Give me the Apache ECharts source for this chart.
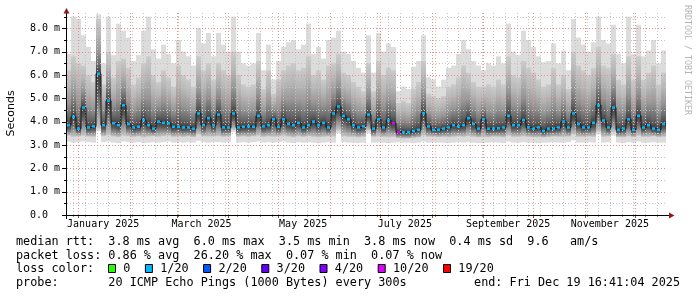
<!DOCTYPE html>
<html><head><meta charset="utf-8">
<script src="https://cdn.jsdelivr.net/npm/echarts@6/dist/echarts.min.js"></script>
<style>html,body{margin:0;padding:0;background:#fff}#c{width:697px;height:297px}</style>
</head><body><div id="c"></div>
<script>
// ---- time frame (360 days, 3-day columns) ----
const START = Date.UTC(2024, 11, 24, 16, 41);
const DAY = 86400000;
const STEP_DAYS = 3;

// ---- data: per-column smoke envelope and median (ms) ----
const topPing = [
  6.9, 8.5, 8.4, 7.7, 7.2, 6.6, 8.6, 6.5, 8.5, 6.85, 8.2, 7.9, 7.6, 6.6, 6.85, 7.9, 8.5, 7.1, 6.7, 7.3, 6.9, 6.5, 7.5, 7.0, 6.8, 6.4, 8.0, 7.35, 7.8, 6.8,
  7.8, 7.3, 7.0, 8.5, 7.0, 6.5, 6.4, 6.5, 7.8, 6.2, 7.3, 5.8, 6.6, 7.2, 7.4, 7.5, 7.1, 7.3, 8.2, 6.9, 7.2, 6.7, 7.5, 7.6, 7.9, 7.0, 6.9, 6.6, 6.3, 6.1,
  7.7, 6.1, 7.8, 7.0, 7.35, 7.2, 5.3, 5.5, 5.4, 6.35, 6.6, 7.7, 5.9, 5.8, 5.5, 5.8, 6.3, 6.4, 6.9, 7.5, 7.1, 6.6, 6.4, 6.2, 6.5, 6.4, 6.8, 6.5, 8.2, 7.0,
  6.85, 7.9, 7.5, 7.2, 6.8, 6.55, 6.6, 7.35, 6.5, 7.05, 6.2, 8.4, 7.6, 7.3, 7.0, 7.4, 8.5, 7.5, 7.35, 8.15, 6.9, 6.5, 8.5, 6.9, 8.15, 6.8, 7.05, 7.5, 6.5, 7.05
];
const upperPing = [
  6.2, 6.8, 6.5, 6.4, 6.0, 5.7, 8.4, 5.6, 7.0, 5.9, 6.6, 6.7, 6.3, 5.6, 5.9, 6.5, 6.8, 6.0, 5.7, 6.2, 5.9, 5.5, 6.4, 6.0, 5.8, 5.5, 6.8, 6.2, 6.5, 5.8,
  6.5, 6.2, 6.0, 7.0, 6.0, 5.6, 5.5, 5.6, 6.6, 5.4, 6.2, 5.2, 5.8, 6.2, 6.4, 6.5, 6.2, 6.3, 6.8, 6.0, 6.2, 5.8, 6.4, 6.5, 6.9, 6.1, 6.0, 5.7, 5.5, 5.3,
  6.5, 5.3, 6.6, 6.0, 6.3, 6.2, 4.8, 4.9, 4.8, 5.4, 5.7, 6.6, 5.2, 5.1, 5.0, 5.1, 5.5, 5.6, 5.9, 6.4, 6.1, 5.7, 5.5, 5.5, 5.6, 5.5, 5.8, 5.6, 6.8, 6.0,
  5.9, 6.6, 6.3, 6.1, 5.8, 5.5, 5.6, 6.3, 5.6, 6.0, 5.4, 7.0, 6.4, 6.2, 6.0, 6.3, 7.2, 6.4, 6.3, 6.9, 5.8, 5.6, 6.8, 5.8, 6.8, 5.8, 6.1, 6.4, 5.6, 6.1
];
const medianRtt = [
  3.85, 4.2, 3.7, 4.6, 3.75, 3.8, 6.05, 3.85, 4.9, 3.93, 3.85, 4.7, 3.9, 3.75, 3.78, 4.07, 3.85, 3.7, 4.0, 3.95, 3.93, 3.78, 3.78, 3.75, 3.75, 3.7, 4.35, 3.85, 4.15, 3.85,
  4.3, 3.75, 3.75, 4.35, 3.75, 3.78, 3.8, 3.78, 4.25, 3.8, 3.85, 4.1, 3.78, 4.1, 3.9, 3.85, 3.95, 3.75, 3.85, 4.0, 3.85, 3.95, 3.75, 4.35, 4.65, 4.25, 4.1, 3.85, 3.75, 3.8,
  4.3, 3.7, 4.1, 3.75, 4.05, 3.93, 3.55, 3.55, 3.55, 3.6, 3.65, 4.35, 3.8, 3.65, 3.65, 3.7, 3.75, 3.85, 3.8, 3.85, 4.15, 3.9, 3.7, 4.1, 3.7, 3.7, 3.72, 3.75, 4.25, 3.85,
  3.85, 4.07, 3.75, 3.7, 3.75, 3.6, 3.7, 3.7, 3.75, 4.0, 3.75, 4.35, 3.9, 3.75, 3.75, 3.95, 4.7, 4.05, 3.75, 4.6, 3.65, 3.7, 4.1, 3.65, 4.25, 3.75, 3.85, 3.7, 3.65, 3.9
];
const lowPing = [
  3.4, 3.35, 3.38, 3.4, 3.36, 3.35, 3.7, 3.38, 3.42, 3.36, 3.34, 3.4, 3.38, 3.35, 3.37, 3.33, 3.36, 3.38, 3.35, 3.38, 3.4, 3.35, 3.37, 3.35, 3.37, 3.34, 3.45, 3.37, 3.36, 3.37,
  3.38, 3.35, 3.37, 3.65, 3.35, 3.37, 3.35, 3.37, 3.4, 3.35, 3.37, 3.35, 3.37, 3.4, 3.36, 3.33, 3.37, 3.35, 3.38, 3.35, 3.33, 3.35, 3.37, 3.36, 3.62, 3.38, 3.35, 3.35, 3.33, 3.35,
  3.62, 3.35, 3.38, 3.35, 3.33, 3.35, 3.3, 3.28, 3.28, 3.3, 3.32, 3.4, 3.35, 3.36, 3.34, 3.35, 3.33, 3.35, 3.37, 3.35, 3.38, 3.35, 3.33, 3.35, 3.34, 3.36, 3.35, 3.33, 3.4, 3.35,
  3.35, 3.37, 3.35, 3.34, 3.33, 3.32, 3.34, 3.36, 3.35, 3.35, 3.36, 3.45, 3.35, 3.35, 3.37, 3.35, 3.58, 3.35, 3.37, 3.55, 3.34, 3.33, 3.37, 3.34, 3.4, 3.35, 3.35, 3.37, 3.34, 3.35
];
const bottomPing = [
  3.14, 3.1, 3.12, 3.15, 3.12, 3.1, 3.6, 3.12, 3.15, 3.1, 3.08, 3.15, 3.12, 3.1, 3.12, 3.08, 3.1, 3.12, 3.1, 3.12, 3.15, 3.1, 3.12, 3.1, 3.12, 3.1, 3.18, 3.12, 3.1, 3.12,
  3.12, 3.1, 3.12, 3.55, 3.1, 3.12, 3.1, 3.12, 3.15, 3.1, 3.12, 3.1, 3.12, 3.15, 3.1, 3.08, 3.12, 3.1, 3.12, 3.1, 3.08, 3.1, 3.12, 3.1, 3.5, 3.12, 3.1, 3.1, 3.08, 3.1,
  3.5, 3.1, 3.12, 3.1, 3.08, 3.1, 3.12, 3.1, 3.1, 3.08, 3.1, 3.15, 3.1, 3.12, 3.1, 3.1, 3.08, 3.1, 3.12, 3.1, 3.12, 3.1, 3.08, 3.1, 3.1, 3.12, 3.1, 3.08, 3.15, 3.1,
  3.1, 3.12, 3.1, 3.1, 3.08, 3.1, 3.1, 3.12, 3.1, 3.1, 3.12, 3.2, 3.1, 3.1, 3.12, 3.1, 3.45, 3.1, 3.12, 3.4, 3.1, 3.08, 3.12, 3.1, 3.15, 3.1, 3.1, 3.12, 3.1, 3.1
];
const lossPings = [
  1,1,1,1,1,1,1,1,1,1,1,1,1,1,1,1,1,1,1,1,1,1,1,1,1,1,1,1,1,1,
  1,1,1,1,1,1,1,1,1,1,1,1,1,1,1,1,1,1,1,1,1,1,1,1,1,1,1,1,1,1,
  1,1,1,1,1,10,10,1,1,1,1,1,1,1,1,1,1,1,1,1,1,1,1,1,1,1,1,1,1,1,
  1,1,1,1,1,1,1,1,1,1,1,1,1,1,1,1,1,1,1,1,1,1,1,1,1,1,1,1,1,1
];

// ---- ticks / labels ----
const monthStarts = ['2025-01-01','2025-02-01','2025-03-01','2025-04-01','2025-05-01','2025-06-01','2025-07-01','2025-08-01','2025-09-01','2025-10-01','2025-11-01','2025-12-01'];
const monthLabelDates = ['2025-01-16','2025-03-16','2025-05-16','2025-07-16','2025-09-16','2025-11-16'];
const monthLabels = ['January 2025','March 2025','May 2025','July 2025','September 2025','November 2025'];
const firstWeekLine = '2024-12-29';
const yMajor = [1,2,3,4,5,6,7,8];
const yMinor = [0.5,1.5,2.5,3.5,4.5,5.5,6.5,7.5,8.5];
const lossLevels = [0,1,2,3,4,10,19];
const lossLabels = ['0','1/20','2/20','3/20','4/20','10/20','19/20'];
const lossColors = ['#26ff00','#00b8ff','#0059ff','#5e00ff','#7e00ff','#dd00ff','#ff0000'];
const legendRows = [
  'median rtt:  3.8 ms avg  6.0 ms max  3.5 ms min  3.8 ms now  0.4 ms sd  9.6   am/s',
  'packet loss: 0.86 % avg  26.20 % max  0.07 % min  0.07 % now',
  'loss color:',
  'probe:       20 ICMP Echo Pings (1000 Bytes) every 300s'
];
const endText = 'end: Fri Dec 19 16:41:04 2025';

// ---- derived ----
const N = topPing.length;
const END = START + N * STEP_DAYS * DAY;
const colT = [];
for (let k = 0; k <= N; k++) colT.push(START + k * STEP_DAYS * DAY);
const YMAX = 8.655;
const MONO = '"DejaVu Sans Mono", monospace';

const smokeData = topPing.map((v, k) => [colT[k], colT[k+1], bottomPing[k], lowPing[k], medianRtt[k], upperPing[k], topPing[k]]);
const markData = medianRtt.map((v, k) => [colT[k], colT[k+1], v, lossPings[k]]);
const lineData = medianRtt.map((v, k) => [colT[k], v]);
lineData.push([END, medianRtt[N-1]]);

const gridData = [];
let wk = Date.parse(firstWeekLine);
while (wk < END) { gridData.push([wk, 0, 0]); wk += 7 * DAY; }
monthStarts.forEach(d => gridData.push([Date.parse(d), 0, 1]));
yMinor.forEach(v => gridData.push([START, v, 2]));
yMajor.forEach(v => gridData.push([START, v, 3]));
gridData.push([START, 0, 4]);

const xLabelData = monthLabelDates.map((d, i) => [Date.parse(d), 0, i]);

const GREY = '#c4c4c4', RED = '#e59090';

function lossColor(n) {
  const i = lossLevels.indexOf(n);
  return lossColors[i >= 0 ? i : 1];
}

function renderSmoke(params, api) {
  const t0 = api.value(0), t1 = api.value(1);
  const x0 = api.coord([t0, 0])[0], x1 = api.coord([t1, 0])[0];
  const y = v => api.coord([t0, v])[1];
  const w = x1 - x0;
  const bot = y(api.value(2)), lo = y(api.value(3)), med = y(api.value(4)), up = y(api.value(5)), tp = y(api.value(6));
  return { type: 'group', children: [
    { type: 'rect', shape: { x: x0, y: tp, width: w, height: bot - tp }, style: { fill: '#dcdcdc' } },
    { type: 'rect', shape: { x: x0, y: up, width: w, height: med - up }, style: { fill: new echarts.graphic.LinearGradient(0, 0, 0, 1, [
      { offset: 0, color: '#cbcbcb' }, { offset: 0.3, color: '#b6b6b6' }, { offset: 0.6, color: '#959595' }, { offset: 0.85, color: '#666666' }, { offset: 1, color: '#3e3e3e' }]) } },
    { type: 'rect', shape: { x: x0, y: med, width: w, height: lo - med }, style: { fill: new echarts.graphic.LinearGradient(0, 0, 0, 1, [
      { offset: 0, color: '#3e3e3e' }, { offset: 0.3, color: '#575757' }, { offset: 0.65, color: '#8e8e8e' }, { offset: 1, color: '#c6c6c6' }]) } }
  ]};
}

function renderMarks(params, api) {
  const x0 = api.coord([api.value(0), 0])[0], x1 = api.coord([api.value(1), 0])[0];
  const ym = api.coord([api.value(0), api.value(2)])[1];
  const w = 3;
  return { type: 'rect', shape: { x: Math.round((x0 + x1) / 2 - w / 2), y: ym - 1.25, width: w, height: 2.5 },
    style: { fill: lossColor(api.value(3)) } };
}

function renderGrid(params, api) {
  const kind = api.value(2);
  const yb = api.coord([START, 0])[1], yt = api.coord([START, YMAX])[1];
  const xl = api.coord([START, 0])[0], xr = api.coord([END, 0])[0];
  if (kind < 2) {
    const x = Math.round(api.coord([api.value(0), 0])[0]) + 0.5;
    return { type: 'group', children: [
      { type: 'line', shape: { x1: x, y1: yb, x2: x, y2: yt }, style: { stroke: kind ? RED : GREY, lineWidth: 1, lineDash: [1, 2] } },
      { type: 'line', shape: { x1: x, y1: yb, x2: x, y2: yb + (kind ? 3 : 2) }, style: { stroke: kind ? '#a04040' : '#888', lineWidth: 1 } }
    ]};
  }
  const yy = Math.round(api.coord([START, api.value(1)])[1]) + 0.5;
  const children = [];
  if (kind === 2 || kind === 3) {
    children.push({ type: 'line', shape: { x1: xl + 1, y1: yy, x2: xr, y2: yy }, style: { stroke: kind === 3 ? RED : GREY, lineWidth: 1, lineDash: [1, 2] } });
  }
  children.push({ type: 'line', shape: { x1: xl - (kind === 2 ? 2 : 4), y1: yy, x2: xl, y2: yy }, style: { stroke: '#000', lineWidth: 1 } });
  return { type: 'group', children };
}

function renderXLabel(params, api) {
  const p = api.coord([api.value(0), 0]);
  return { type: 'text', x: p[0], y: p[1] + 9.5, style: { text: monthLabels[api.value(2)], font: '10px ' + MONO, fill: '#000', align: 'center', verticalAlign: 'middle' } };
}

const graphics = [
  { type: 'line', shape: { x1: 66.5, y1: 219, x2: 66.5, y2: 11 }, style: { stroke: '#000', lineWidth: 1 }, z: 100 },
  { type: 'line', shape: { x1: 62, y1: 215.5, x2: 670, y2: 215.5 }, style: { stroke: '#000', lineWidth: 1 }, z: 100 },
  { type: 'polygon', shape: { points: [[63.5, 13.5], [69.5, 13.5], [66.5, 8]] }, style: { fill: '#8b1a1a' }, z: 101 },
  { type: 'polygon', shape: { points: [[669, 212.5], [669, 218.5], [674.5, 215.5]] }, style: { fill: '#8b1a1a' }, z: 101 },
  { type: 'text', x: 11, y: 113.5, rotation: Math.PI / 2, style: { text: 'Seconds', font: '11px "DejaVu Sans"', fill: '#000', align: 'center', verticalAlign: 'middle' } },
  { type: 'text', x: 687.5, y: 60, rotation: -Math.PI / 2, style: { text: 'RRDTOOL / TOBI OETIKER', font: '8.3px ' + MONO, fill: '#b4b4b4', align: 'center', verticalAlign: 'middle' } }
];
const rowY = [241.9, 255.6, 269.2, 282.9];
const CW = 7.1;
legendRows.forEach((t, i) => graphics.push({ type: 'text', x: 16, y: rowY[i], style: { text: t, font: '11.8px ' + MONO, fill: '#000', align: 'left', verticalAlign: 'middle' } }));
graphics.push({ type: 'text', x: 680, y: rowY[3], style: { text: endText, font: '11.8px ' + MONO, fill: '#000', align: 'right', verticalAlign: 'middle' } });
let bx = 108;
lossLabels.forEach((lab, i) => {
  graphics.push({ type: 'rect', shape: { x: bx + 0.5, y: 264.5, width: 7, height: 8 }, style: { fill: lossColors[i], stroke: '#000', lineWidth: 1 } });
  const lx = bx + 15.3;
  graphics.push({ type: 'text', x: lx, y: rowY[2], style: { text: lab, font: '11.8px ' + MONO, fill: '#000', align: 'left', verticalAlign: 'middle' } });
  bx = lx + (lab.length + 2) * CW + 0.3;
});

const chart = echarts.init(document.getElementById('c'), null, { renderer: 'canvas', width: 697, height: 297 });
chart.setOption({
  animation: false,
  backgroundColor: '#fff',
  grid: { left: 66, right: 31, top: 13, bottom: 82, containLabel: false, outerBoundsMode: 'none' },
  xAxis: {
    type: 'time', min: START, max: END,
    axisLine: { show: false }, axisTick: { show: false }, splitLine: { show: false }, axisLabel: { show: false }
  },
  yAxis: {
    type: 'value', min: 0, max: YMAX, interval: 1,
    axisLine: { show: false }, axisTick: { show: false }, splitLine: { show: false },
    axisLabel: {
      showMaxLabel: false, align: 'left', margin: 36, fontFamily: MONO, fontSize: 10, color: '#000',
      formatter: v => Math.abs(v - Math.round(v)) > 1e-6 ? '' : (v === 0 ? '0.0' : v.toFixed(1) + ' m')
    }
  },
  series: [
    { type: 'custom', name: 'smoke', renderItem: renderSmoke, data: smokeData, encode: { x: [0, 1], y: [2, 6] }, z: 1, silent: true },
    { type: 'custom', name: 'grid', renderItem: renderGrid, data: gridData, encode: { x: 0, y: 1 }, z: 2, silent: true, clip: false },
    { type: 'line', name: 'median', data: lineData, step: 'end', symbol: 'none', lineStyle: { color: '#161616', width: 1 }, z: 3, silent: true },
    { type: 'custom', name: 'loss', renderItem: renderMarks, data: markData, encode: { x: [0, 1], y: 2 }, z: 4, silent: true },
    { type: 'custom', name: 'xlabels', renderItem: renderXLabel, data: xLabelData, encode: { x: 0, y: 1 }, z: 5, silent: true, clip: false }
  ],
  graphic: graphics
});
</script>
</body></html>
